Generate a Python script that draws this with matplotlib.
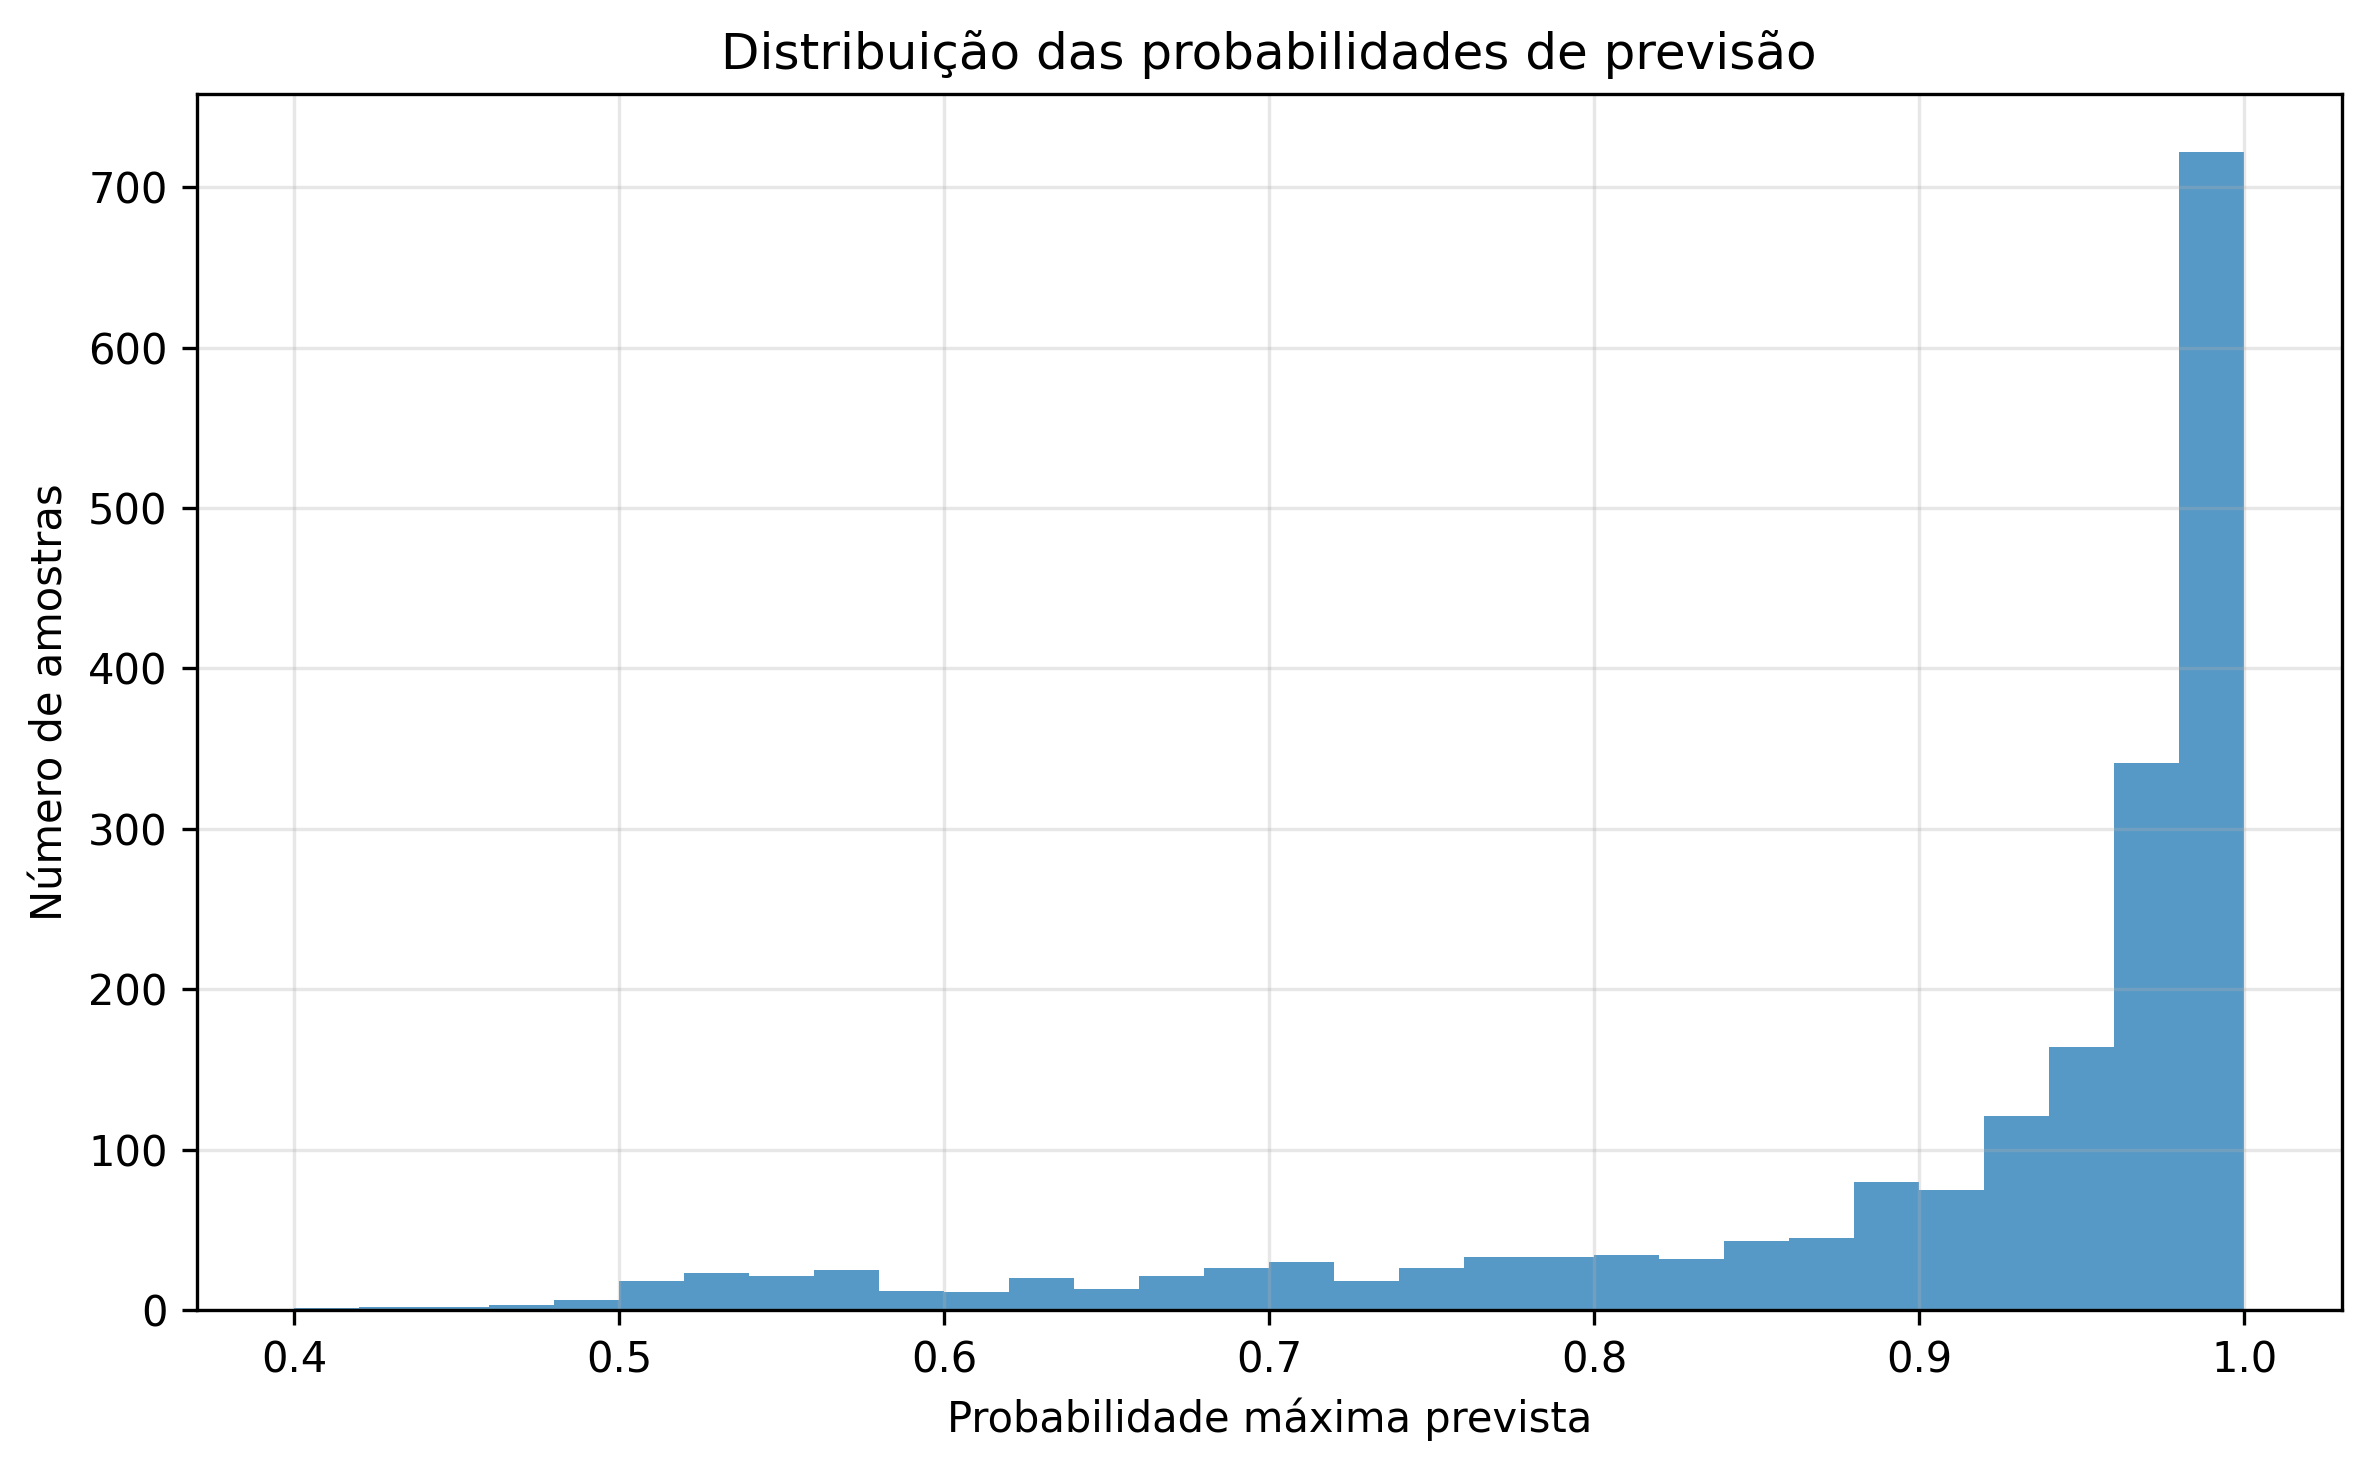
import numpy as np
import matplotlib.pyplot as plt

bin_edges = np.linspace(0.40, 1.00, 31)
counts = [1, 2, 2, 3, 6, 18, 23, 21, 25, 12, 11, 20, 13, 21, 26,
          30, 18, 26, 33, 33, 34, 32, 43, 45, 80, 75, 121, 164, 341, 722]

fig, ax = plt.subplots(figsize=(7.9, 4.89), dpi=300)
ax.hist(bin_edges[:-1], bins=bin_edges, weights=counts, color="C0", alpha=0.75)
ax.set_title("Distribuição das probabilidades de previsão")
ax.set_xlabel("Probabilidade máxima prevista")
ax.set_ylabel("Número de amostras")
ax.grid(alpha=0.3)
plt.subplots_adjust(left=0.083, right=0.988, top=0.936, bottom=0.107)
plt.savefig("out.png", dpi=300)
